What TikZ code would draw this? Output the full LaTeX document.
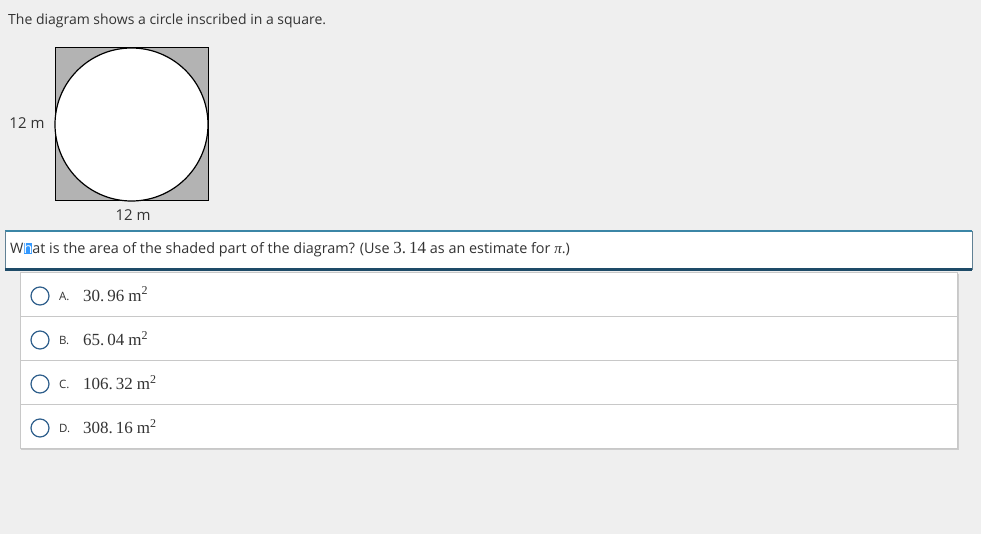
\documentclass[tikz,border=0pt]{standalone}
\usepackage{fontspec}
\setmainfont{Open Sans}
\newfontfamily\valfont{Liberation Serif}
\definecolor{pagebg}{HTML}{EFEFEF}
\definecolor{shade}{HTML}{B3B3B3}
\definecolor{txt}{HTML}{333333}
\definecolor{qtop}{HTML}{3B86A6}
\definecolor{qbottom}{HTML}{1E4B68}
\definecolor{radio}{HTML}{2F5F8C}
\definecolor{rule}{HTML}{C8C8C8}
\definecolor{selblue}{HTML}{3399FF}
\newcommand{\optval}[1]{{\valfont\fontsize{17}{19}\selectfont #1\hspace{4pt}m\raisebox{6pt}{\fontsize{12}{12}\selectfont 2}}}
\newcommand{\selh}{{\fboxsep=0pt\colorbox{selblue}{\textcolor{white}{h}}}}

\begin{document}
\begin{tikzpicture}[x=1pt,y=-1pt]
        \tikzset{every node/.style={inner sep=0pt,text=txt}}
        \tikzset{plain/.style={font=\fontsize{14}{16}\selectfont}}
        \tikzset{dim/.style={font=\fontsize{15}{17}\selectfont}}
        \tikzset{letter/.style={font=\fontsize{11.5}{13}\selectfont,anchor=base west}}
        \tikzset{radiobtn/.style={circle,draw=radio,line width=1.2pt,minimum size=18pt,fill=white}}
        \useasboundingbox (0,0) rectangle (981,534);
        \fill[pagebg] (0,0) rectangle (981,534);
        % the picture
        \node[plain,anchor=base west] (title) at (8,25) {The diagram shows a circle inscribed in a square.};
        \filldraw[fill=shade,draw=black,line width=1pt] (55,48) rectangle (208,201);
        \filldraw[fill=white,draw=black,line width=1.2pt] (131.5,124.5) circle (76.5);
        \node[dim] (side) at (27,123) {12 m};
        \node[dim] (base) at (133,215) {12 m};
        % the question
        \fill[white] (5,231) rectangle (972,270);
        \draw[qtop,line width=1.5pt] (5,231) -- (972,231);
        \draw[qbottom!70,line width=0.8pt] (5,231) -- (5,270) (972,231) -- (972,270);
        \draw[qbottom,line width=3pt] (5,270) -- (972,270);
        \node[anchor=base west,font=\fontsize{14.4}{17}\selectfont] (quest) at (10,254)
          {W\selh at is the area of the shaded part of the diagram? (Use {\valfont\fontsize{17}{19}\selectfont 3.\hspace{3pt}14} as an estimate for {\valfont\itshape\fontsize{15}{17}\selectfont π}.)};
        % the choices
        \fill[gray!40] (21,274) rectangle (959,450);
        \filldraw[fill=white,draw=rule,line width=0.8pt] (20,272) rectangle (957,448);
        \foreach \y in {316,360,404}
          \draw[rule,line width=0.8pt] (20,\y) -- (957,\y);
        \foreach \l/\v/\y [count=\i] in {A./30.\hspace{3pt}96/296,B./65.\hspace{3pt}04/340,C./106.\hspace{3pt}32/384,D./308.\hspace{3pt}16/428} {
          \node[radiobtn] (r\i) at (40,\y) {};
          \node[letter] (l\i) at (59,\y+4) {\l};
          \node[anchor=base west] (v\i) at (83,\y+5) {\optval{\v}};
        }
\end{tikzpicture}
\end{document}
